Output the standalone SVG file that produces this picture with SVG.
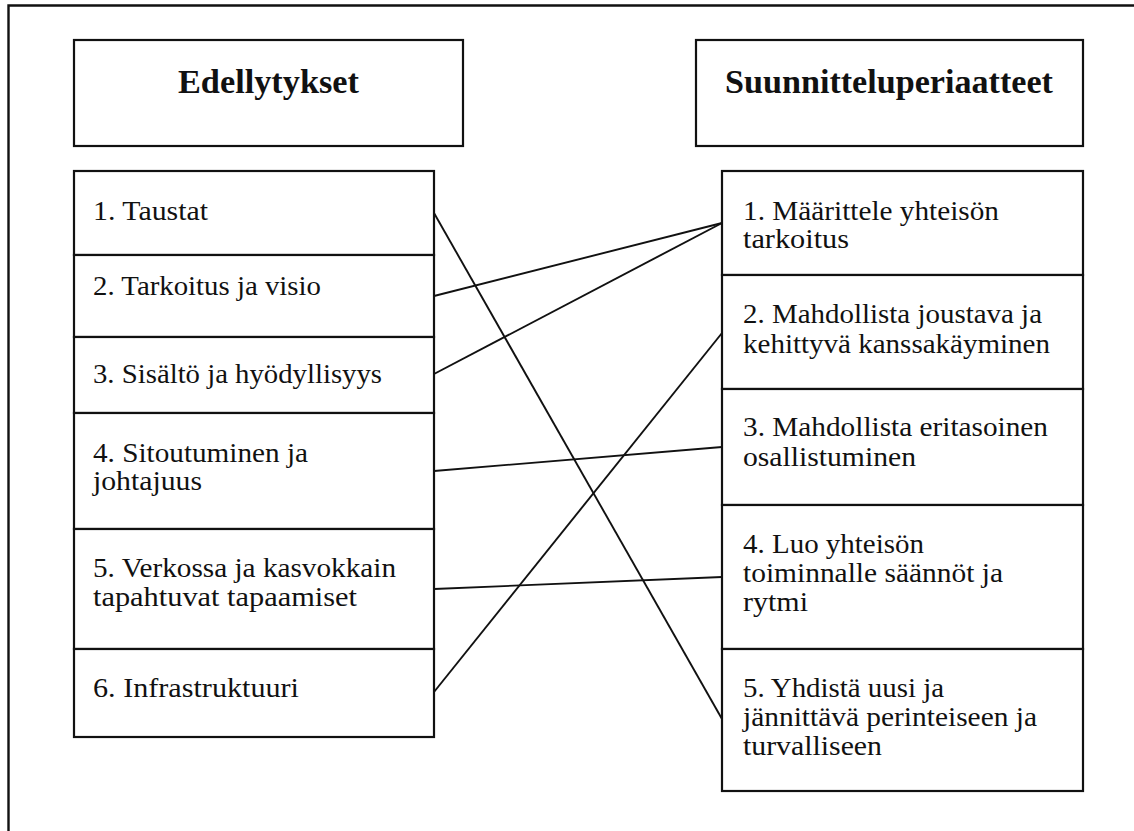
<svg xmlns="http://www.w3.org/2000/svg" width="1134" height="831" viewBox="0 0 1134 831">
  <style>
    .box { fill: #ffffff; stroke: #111111; stroke-width: 2.2; }
    .frame { fill: none; stroke: #111111; stroke-width: 2.4; }
    .link { stroke: #111111; stroke-width: 1.9; fill: none; }
    .txt { font-family: "Liberation Serif", "DejaVu Serif", serif; font-size: 28px; fill: #111111; }
    .head { font-family: "Liberation Serif", "DejaVu Serif", serif; font-size: 33px; font-weight: bold; fill: #111111; }
  </style>

  <!-- outer frame (open to the right and bottom) -->
  <path class="frame" d="M8.5,831 V5.5 H1134"/>

  <!-- column headers -->
  <g id="head-edellytykset">
    <rect class="box" x="74" y="40" width="389" height="106"/>
    <text class="head" x="178" y="93" textLength="181" lengthAdjust="spacingAndGlyphs">Edellytykset</text>
  </g>
  <g id="head-suunnitteluperiaatteet">
    <rect class="box" x="696" y="40" width="387" height="106"/>
    <text class="head" x="725" y="93" textLength="328" lengthAdjust="spacingAndGlyphs">Suunnitteluperiaatteet</text>
  </g>

  <!-- left column: prerequisites -->
  <g id="e1">
    <rect class="box" x="74" y="171" width="360" height="84"/>
    <text class="txt" x="93" y="220" textLength="115" lengthAdjust="spacingAndGlyphs">1. Taustat</text>
  </g>
  <g id="e2">
    <rect class="box" x="74" y="255" width="360" height="82"/>
    <text class="txt" x="93" y="295" textLength="228" lengthAdjust="spacingAndGlyphs">2. Tarkoitus ja visio</text>
  </g>
  <g id="e3">
    <rect class="box" x="74" y="337" width="360" height="76"/>
    <text class="txt" x="93" y="383" textLength="289" lengthAdjust="spacingAndGlyphs">3. Sisältö ja hyödyllisyys</text>
  </g>
  <g id="e4">
    <rect class="box" x="74" y="413" width="360" height="116"/>
    <text class="txt" x="93" y="462" textLength="215" lengthAdjust="spacingAndGlyphs">4. Sitoutuminen ja</text>
    <text class="txt" x="93" y="490" textLength="109" lengthAdjust="spacingAndGlyphs">johtajuus</text>
  </g>
  <g id="e5">
    <rect class="box" x="74" y="529" width="360" height="120"/>
    <text class="txt" x="93" y="577" textLength="303" lengthAdjust="spacingAndGlyphs">5. Verkossa ja kasvokkain</text>
    <text class="txt" x="93" y="606" textLength="264" lengthAdjust="spacingAndGlyphs">tapahtuvat tapaamiset</text>
  </g>
  <g id="e6">
    <rect class="box" x="74" y="649" width="360" height="88"/>
    <text class="txt" x="93" y="697" textLength="206" lengthAdjust="spacingAndGlyphs">6. Infrastruktuuri</text>
  </g>

  <!-- right column: design principles -->
  <g id="s1">
    <rect class="box" x="722" y="171" width="361" height="104"/>
    <text class="txt" x="743" y="220" textLength="256" lengthAdjust="spacingAndGlyphs">1. Määrittele yhteisön</text>
    <text class="txt" x="743" y="248" textLength="106" lengthAdjust="spacingAndGlyphs">tarkoitus</text>
  </g>
  <g id="s2">
    <rect class="box" x="722" y="275" width="361" height="114"/>
    <text class="txt" x="743" y="323" textLength="299" lengthAdjust="spacingAndGlyphs">2. Mahdollista joustava ja</text>
    <text class="txt" x="743" y="353" textLength="307" lengthAdjust="spacingAndGlyphs">kehittyvä kanssakäyminen</text>
  </g>
  <g id="s3">
    <rect class="box" x="722" y="389" width="361" height="116"/>
    <text class="txt" x="743" y="436" textLength="305" lengthAdjust="spacingAndGlyphs">3. Mahdollista eritasoinen</text>
    <text class="txt" x="743" y="466" textLength="173" lengthAdjust="spacingAndGlyphs">osallistuminen</text>
  </g>
  <g id="s4">
    <rect class="box" x="722" y="505" width="361" height="144"/>
    <text class="txt" x="743" y="553" textLength="181" lengthAdjust="spacingAndGlyphs">4. Luo yhteisön</text>
    <text class="txt" x="743" y="582" textLength="260" lengthAdjust="spacingAndGlyphs">toiminnalle säännöt ja</text>
    <text class="txt" x="743" y="611" textLength="65" lengthAdjust="spacingAndGlyphs">rytmi</text>
  </g>
  <g id="s5">
    <rect class="box" x="722" y="649" width="361" height="142"/>
    <text class="txt" x="743" y="697" textLength="201" lengthAdjust="spacingAndGlyphs">5. Yhdistä uusi ja</text>
    <text class="txt" x="743" y="726" textLength="294" lengthAdjust="spacingAndGlyphs">jännittävä perinteiseen ja</text>
    <text class="txt" x="743" y="755" textLength="139" lengthAdjust="spacingAndGlyphs">turvalliseen</text>
  </g>

  <!-- connectors between the two columns -->
  <g id="connectors">
    <line class="link" x1="434" y1="213" x2="722" y2="719"/>
    <line class="link" x1="434" y1="296" x2="722" y2="223"/>
    <line class="link" x1="434" y1="374" x2="722" y2="223"/>
    <line class="link" x1="434" y1="471" x2="722" y2="447"/>
    <line class="link" x1="434" y1="589" x2="722" y2="577"/>
    <line class="link" x1="434" y1="692" x2="722" y2="333"/>
  </g>
</svg>
